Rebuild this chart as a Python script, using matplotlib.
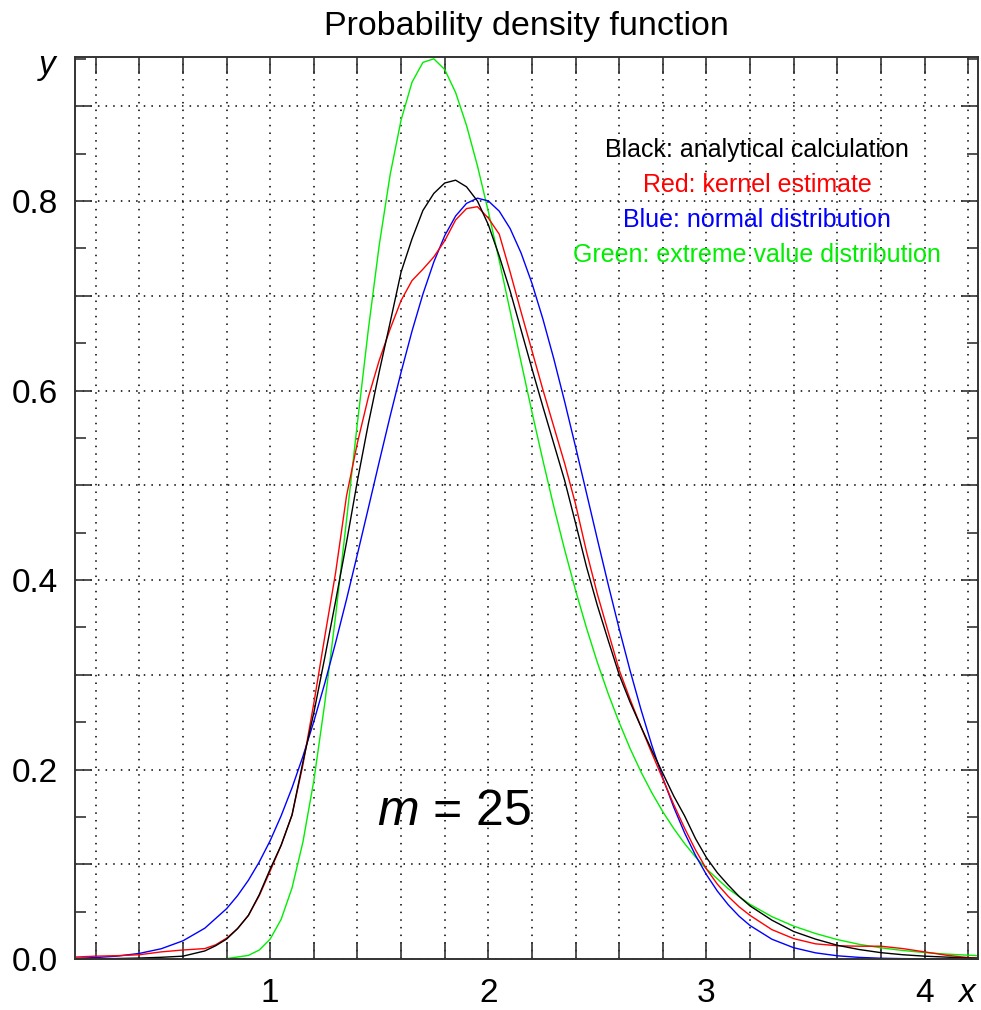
import matplotlib
matplotlib.use("Agg")
import matplotlib.pyplot as plt
from matplotlib.ticker import MultipleLocator, FuncFormatter

plt.rcParams["font.family"] = ["Liberation Sans", "DejaVu Sans"]
plt.rcParams["mathtext.fontset"] = "custom"
plt.rcParams["mathtext.rm"] = "Liberation Sans"
plt.rcParams["mathtext.it"] = "Liberation Sans:italic"

# values
black_x = [0.10, 0.20, 0.30, 0.40, 0.50, 0.60, 0.70, 0.75, 0.80, 0.85, 0.90, 0.95, 1.00, 1.05,
           1.10, 1.15, 1.20, 1.25, 1.30, 1.35, 1.40, 1.45, 1.50, 1.55, 1.60, 1.65, 1.70, 1.75,
           1.80, 1.85, 1.90, 1.95, 2.00, 2.05, 2.10, 2.15, 2.20, 2.25, 2.30, 2.35, 2.40, 2.45,
           2.50, 2.55, 2.60, 2.65, 2.70, 2.75, 2.80, 2.85, 2.90, 2.95, 3.00, 3.05, 3.10, 3.15,
           3.20, 3.30, 3.40, 3.50, 3.60, 3.70, 3.80, 3.90, 4.00, 4.10, 4.20, 4.25]
black_y = [0.0, 0.0002, 0.0005, 0.001, 0.0018, 0.003, 0.0085, 0.014, 0.021, 0.032, 0.046, 0.068, 0.095, 0.12,
           0.152, 0.208, 0.26, 0.318, 0.378, 0.44, 0.505, 0.565, 0.62, 0.672, 0.725, 0.76, 0.79, 0.808,
           0.819, 0.822, 0.815, 0.80, 0.775, 0.742, 0.705, 0.664, 0.623, 0.583, 0.544, 0.505, 0.46, 0.414,
           0.373, 0.336, 0.300, 0.271, 0.245, 0.220, 0.196, 0.172, 0.151, 0.127, 0.107, 0.091, 0.078, 0.066,
           0.056, 0.041, 0.029, 0.021, 0.0145, 0.010, 0.0067, 0.0045, 0.003, 0.002, 0.001, 0.0008]

red_x = [0.10, 0.20, 0.30, 0.40, 0.50, 0.60, 0.70, 0.75, 0.80, 0.85, 0.90, 0.95, 1.00, 1.05,
         1.10, 1.15, 1.20, 1.25, 1.30, 1.35, 1.40, 1.45, 1.50, 1.55, 1.60, 1.65, 1.70, 1.75,
         1.80, 1.85, 1.90, 1.95, 2.00, 2.05, 2.10, 2.15, 2.20, 2.25, 2.30, 2.35, 2.40, 2.45,
         2.50, 2.55, 2.60, 2.65, 2.70, 2.75, 2.80, 2.85, 2.90, 2.95, 3.00, 3.05, 3.10, 3.15,
         3.20, 3.30, 3.40, 3.50, 3.60, 3.70, 3.80, 3.90, 4.00, 4.10, 4.20, 4.25]
red_y = [0.002, 0.003, 0.0035, 0.0045, 0.0075, 0.0095, 0.011, 0.015, 0.022, 0.032, 0.046, 0.067, 0.093, 0.12,
         0.152, 0.205, 0.27, 0.34, 0.408, 0.489, 0.545, 0.593, 0.632, 0.665, 0.695, 0.716, 0.728, 0.741,
         0.758, 0.78, 0.792, 0.794, 0.782, 0.765, 0.725, 0.683, 0.642, 0.601, 0.562, 0.523, 0.48, 0.43,
         0.385, 0.345, 0.305, 0.274, 0.245, 0.217, 0.19, 0.163, 0.138, 0.115, 0.095, 0.079, 0.066, 0.055,
         0.046, 0.031, 0.0215, 0.016, 0.014, 0.0135, 0.0135, 0.011, 0.0075, 0.004, 0.0015, 0.001]

blue_x = [0.10, 0.20, 0.30, 0.40, 0.50, 0.60, 0.70, 0.80, 0.85, 0.90, 0.95, 1.00, 1.05, 1.10,
          1.15, 1.20, 1.25, 1.30, 1.35, 1.40, 1.45, 1.50, 1.55, 1.60, 1.65, 1.70, 1.75, 1.80,
          1.85, 1.90, 1.95, 2.00, 2.05, 2.10, 2.15, 2.20, 2.25, 2.30, 2.35, 2.40, 2.45, 2.50,
          2.55, 2.60, 2.65, 2.70, 2.75, 2.80, 2.85, 2.90, 2.95, 3.00, 3.05, 3.10, 3.15, 3.20,
          3.30, 3.40, 3.50, 3.60, 3.70, 3.80, 3.90, 4.00, 4.10, 4.20, 4.25]
blue_y = [0.0007, 0.0015, 0.0031, 0.0059, 0.0108, 0.0192, 0.0325, 0.0531, 0.0668, 0.0831, 0.1025, 0.125, 0.1511, 0.1807,
          0.2139, 0.2507, 0.2909, 0.3341, 0.3797, 0.4274, 0.476, 0.525, 0.5731, 0.6193, 0.6626, 0.7017, 0.7356, 0.7634,
          0.7842, 0.7975, 0.803, 0.8001, 0.7893, 0.7709, 0.7452, 0.7132, 0.6756, 0.6336, 0.5882, 0.5405, 0.4918, 0.4429,
          0.3948, 0.3484, 0.3043, 0.2632, 0.2253, 0.191, 0.1602, 0.133, 0.1093, 0.089, 0.0717, 0.0572, 0.0451, 0.0353,
          0.0209, 0.0119, 0.0065, 0.0034, 0.0017, 0.0008, 0.0004, 0.0002, 0.0001, 0.00004, 0.00002]

green_x = [0.10, 0.50, 0.70, 0.80, 0.90, 0.95, 1.00, 1.05, 1.10, 1.15, 1.20, 1.25, 1.30, 1.35,
           1.40, 1.45, 1.50, 1.55, 1.60, 1.65, 1.70, 1.75, 1.80, 1.85, 1.90, 1.95, 2.00, 2.05,
           2.10, 2.15, 2.20, 2.25, 2.30, 2.35, 2.40, 2.45, 2.50, 2.55, 2.60, 2.65, 2.70, 2.75,
           2.80, 2.85, 2.90, 2.95, 3.00, 3.10, 3.20, 3.30, 3.40, 3.50, 3.60, 3.70, 3.80, 3.90,
           4.00, 4.10, 4.20, 4.25]
green_y = [0.0, 0.0, 0.00002, 0.0004, 0.0038, 0.0095, 0.0211, 0.0418, 0.075, 0.1235, 0.1883, 0.2697, 0.3626, 0.4636,
           0.5662, 0.6646, 0.7538, 0.828, 0.8855, 0.9253, 0.9463, 0.9501, 0.9388, 0.9145, 0.8798, 0.8372, 0.7889, 0.7372,
           0.6838, 0.6302, 0.5773, 0.5264, 0.4776, 0.4318, 0.3891, 0.3494, 0.3129, 0.2797, 0.2496, 0.2221, 0.1974, 0.1753,
           0.1554, 0.1377, 0.1218, 0.1077, 0.0951, 0.0741, 0.0576, 0.0447, 0.0347, 0.0269, 0.0205, 0.0155, 0.0118, 0.0090,
           0.0068, 0.0052, 0.0040, 0.0035]

legend_lines = ["Black: analytical calculation", "Red: kernel estimate",
                "Blue: normal distribution", "Green: extreme value distribution"]
legend_colors = ["black", "#ff0000", "#0000ff", "#00ee00"]

fig = plt.figure(figsize=(9.81, 10.10), dpi=100)
ax = fig.add_axes([75 / 981, 1 - 959 / 1010, 903 / 981, 902 / 1010])

ax.plot(green_x, green_y, color="#00ee00", lw=1.0)
ax.plot(blue_x, blue_y, color="#0000ff", lw=1.0)
ax.plot(red_x, red_y, color="#ff0000", lw=1.0)
ax.plot(black_x, black_y, color="black", lw=1.0)

ax.set_xlim(0.105, 4.245)
ax.set_ylim(0.0, 0.952)

ax.xaxis.set_major_locator(MultipleLocator(0.2))
ax.yaxis.set_major_locator(MultipleLocator(0.1))
ax.yaxis.set_minor_locator(MultipleLocator(0.05))
ax.xaxis.set_major_formatter(FuncFormatter(
    lambda v, p: f"{v:.0f}" if abs(v - round(v)) < 1e-6 else ""))
ax.yaxis.set_major_formatter(FuncFormatter(
    lambda v, p: f"{v:.1f}" if abs(v / 0.2 - round(v / 0.2)) < 1e-6 else ""))

ax.tick_params(which="both", direction="in", top=True, right=True, color="#333333", width=1.2)
ax.tick_params(which="major", length=12, labelsize=24)
ax.tick_params(which="minor", length=8)
ax.tick_params(axis="x", pad=14)
ax.tick_params(axis="y", pad=12)
for s in ax.spines.values():
    s.set_color("#333333")
    s.set_linewidth(1.4)

ax.grid(which="major", color="black", linestyle=(0, (1, 4)), linewidth=1.1)

for i, (txt, c) in enumerate(zip(legend_lines, legend_colors)):
    ax.text(3.233, 0.854 - i * 0.037, txt, color=c, fontsize=18, ha="center", va="center")

ax.text(1.842, 0.155, r"$m$ = 25", fontsize=36, ha="center", va="center")

fig.text(526 / 981, 1 - 27 / 1010, "Probability density function", fontsize=24.5,
         ha="center", va="center")
fig.text(47 / 981, 1 - 65 / 1010, "y", fontsize=24, style="italic", ha="center", va="center")
fig.text(967 / 981, 1 - 993 / 1010, "x", fontsize=24, style="italic", ha="center", va="center")

fig.savefig("out.png", dpi=100)
